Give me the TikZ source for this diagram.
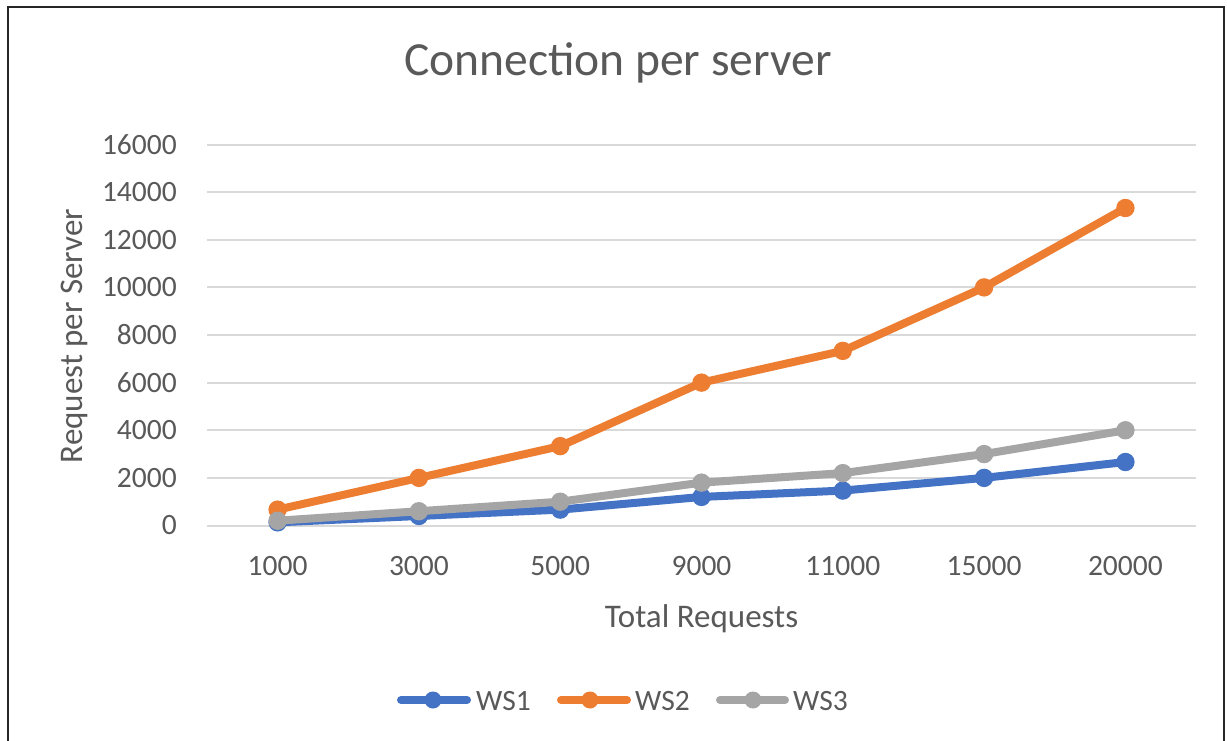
\documentclass[tikz,border=0pt]{standalone}
\usepackage{fontspec}
\setmainfont{Carlito}
\definecolor{wsblue}{HTML}{4472C4}
\definecolor{wsorange}{HTML}{ED7D31}
\definecolor{wsgray}{HTML}{A5A5A5}
\definecolor{txtgray}{HTML}{595959}
\definecolor{gridgray}{HTML}{D9D9D9}
\definecolor{frame}{HTML}{262626}
\tikzset{
  series/.style={line width=8pt, line join=round, line cap=round},
  gridline/.style={draw=gridgray, line width=2pt},
  ticklabel/.style={text=txtgray, font=\fontsize{29.5}{34}\selectfont, inner sep=0pt},
  axistitle/.style={text=txtgray, font=\fontsize{33}{38}\selectfont, inner sep=0pt},
  legendlabel/.style={text=txtgray, font=\fontsize{29.5}{34}\selectfont, inner sep=0pt, anchor=base west},
}
% value in thousands -> vertical position in the plot area
\newcommand{\yval}[1]{525.5-(#1)*23.8125}
\newcommand{\mrad}{9.2}
\begin{document}
\begin{tikzpicture}[x=1pt, y=-1pt]
\useasboundingbox (0,0) rectangle (1227,740);
\fill[white] (0,0) rectangle (1227,740);
% chart frame (bottom edge lies outside the page)
\draw[frame, line width=2pt] (7.5,741) -- (7.5,6.5) -- (1224,6.5) -- (1224,741);

% title
\node[text=txtgray, font=\fontsize{47.5}{54}\selectfont, inner sep=0pt, anchor=base] (title) at (618,75) {Connection per server};

% horizontal gridlines and value labels
\foreach \k/\lab in {0/0,1/2000,2/4000,3/6000,4/8000,5/10000,6/12000,7/14000,8/16000} {
  \pgfmathsetmacro{\gy}{525.5-47.625*\k}
  \draw[gridline] (207,\gy) -- (1196,\gy);
  \node[ticklabel, anchor=east] (ylab\k) at (177,\gy) {\lab};
}

% category labels
\foreach \c [count=\i from 0] in {1000,3000,5000,9000,11000,15000,20000} {
  \node[ticklabel, anchor=base] (xlab\i) at ({277.6+141.3*\i},575) {\c};
}

% axis titles
\node[axistitle, anchor=base] (xtitle) at (701.5,627) {Total Requests};
\node[axistitle, rotate=90, anchor=base] (ytitle) at (82,336) {Request per Server};

% data points (totals in thousands): WS1 = 2/15, WS2 = 2/3, WS3 = 1/5 of the total
\foreach \t [count=\i from 0] in {1,3,5,9,11,15,20} {
  \pgfmathsetmacro{\px}{277.6+141.3*\i}
  \coordinate (a\i) at (\px, {\yval{\t*2/15}});
  \coordinate (b\i) at (\px, {\yval{\t*2/3}});
  \coordinate (c\i) at (\px, {\yval{\t/5}});
}

% WS1
\draw[series, wsblue] (a0) -- (a1) -- (a2) -- (a3) -- (a4) -- (a5) -- (a6);
\foreach \i in {0,...,6} \fill[wsblue] (a\i) circle (\mrad);
% WS2
\draw[series, wsorange] (b0) -- (b1) -- (b2) -- (b3) -- (b4) -- (b5) -- (b6);
\foreach \i in {0,...,6} \fill[wsorange] (b\i) circle (\mrad);
% WS3
\draw[series, wsgray] (c0) -- (c1) -- (c2) -- (c3) -- (c4) -- (c5) -- (c6);
\foreach \i in {0,...,6} \fill[wsgray] (c\i) circle (\mrad);

% legend
\coordinate (l1a) at (401,700); \coordinate (l1b) at (467,700); \coordinate (l1m) at (433,700);
\coordinate (l2a) at (561,700); \coordinate (l2b) at (627,700); \coordinate (l2m) at (590,700);
\coordinate (l3a) at (720,700); \coordinate (l3b) at (785,700); \coordinate (l3m) at (753,700);
\draw[series, wsblue] (l1a) -- (l1b);
\fill[wsblue] (l1m) circle (8.5);
\node[legendlabel] (leg1) at (476,710) {WS1};
\draw[series, wsorange] (l2a) -- (l2b);
\fill[wsorange] (l2m) circle (8.5);
\node[legendlabel] (leg2) at (635,710) {WS2};
\draw[series, wsgray] (l3a) -- (l3b);
\fill[wsgray] (l3m) circle (8.5);
\node[legendlabel] (leg3) at (793,710) {WS3};
\end{tikzpicture}
\end{document}
